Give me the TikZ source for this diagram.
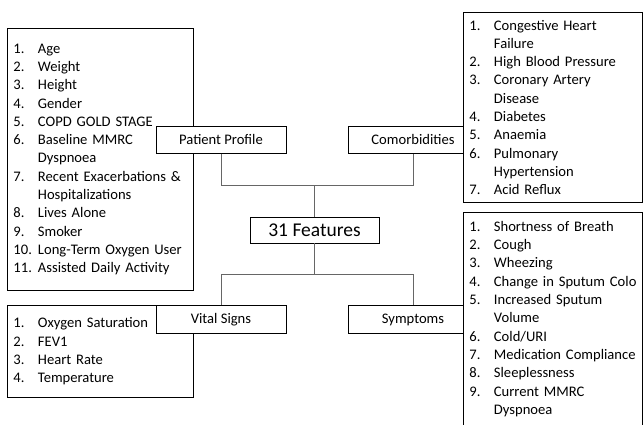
\documentclass[tikz,border=0pt]{standalone}
\usepackage{fontspec}
\setmainfont{Carlito}
\usepackage{xcolor,tikz}
\usetikzlibrary{positioning,calc}
\newcommand{\lstitem}[2]{\makebox[24.5pt][l]{#1}#2}
\newcommand{\lstcont}[1]{\hspace*{24.5pt}#1}
\tikzset{listbox/.style={draw=black,fill=white,line width=0.9pt,anchor=north west,align=left,inner xsep=6pt,inner ysep=0pt,font=\fontsize{14.6}{18.3}\selectfont},catbox/.style={draw=black,fill=white,line width=0.9pt,minimum width=130pt,minimum height=27pt,inner sep=0pt,font=\fontsize{14.6}{18}\selectfont},featbox/.style={catbox,minimum width=129pt,minimum height=26pt,font=\fontsize{19.5}{22}\selectfont},conn/.style={draw=black!60,line width=0.9pt}}

\begin{document}
\begin{tikzpicture}[x=1pt,y=1pt]
\useasboundingbox (0,0) rectangle (643,424);
\begin{scope}
\clip (0,0) rectangle (643,424);
% left lists sit under their labels
\node[listbox,text width=174pt,minimum height=262pt] (plist) at (7,396) {\lstitem{1.}{Age}\\\lstitem{2.}{Weight}\\\lstitem{3.}{Height}\\\lstitem{4.}{Gender}\\\lstitem{5.}{COPD GOLD STAGE}\\\lstitem{6.}{Baseline MMRC}\\\lstcont{Dyspnoea}\\\lstitem{7.}{Recent Exacerbations \&}\\\lstcont{Hospitalizations}\\\lstitem{8.}{Lives Alone}\\\lstitem{9.}{Smoker}\\\lstitem{10.}{Long-Term Oxygen User}\\\lstitem{11.}{Assisted Daily Activity}};
\node[listbox,text width=174pt,minimum height=92pt] (vlist) at (7,119) {\lstitem{1.}{Oxygen Saturation}\\\lstitem{2.}{FEV1}\\\lstitem{3.}{Heart Rate}\\\lstitem{4.}{Temperature}};
\node[featbox] (feat) at (314.5,194) {31 Features};
\node[catbox,above=63pt of feat,xshift=-93.5pt] (profile) {Patient Profile};
\node[catbox,above=63pt of feat,xshift=98.5pt] (comorb) {Comorbidities};
\node[catbox,below=62pt of feat,xshift=-93.5pt,minimum height=28pt] (vital) {Vital Signs};
\node[catbox,below=62pt of feat,xshift=98.5pt,minimum height=28pt] (sympt) {Symptoms};
% right lists sit over their labels
\node[listbox,text width=167pt,minimum height=190pt] (clist) at (463,412) {\lstitem{1.}{Congestive Heart}\\\lstcont{Failure}\\\lstitem{2.}{High Blood Pressure}\\\lstitem{3.}{Coronary Artery}\\\lstcont{Disease}\\\lstitem{4.}{Diabetes}\\\lstitem{5.}{Anaemia}\\\lstitem{6.}{Pulmonary}\\\lstcont{Hypertension}\\\lstitem{7.}{Acid Reflux}};
\node[listbox,text width=167pt,minimum height=213pt] (slist) at (463,212) {\lstitem{1.}{Shortness of Breath}\\\lstitem{2.}{Cough}\\\lstitem{3.}{Wheezing}\\\lstitem{4.}{\rlap{Change in Sputum Colo}}\\\lstitem{5.}{Increased Sputum}\\\lstcont{Volume}\\\lstitem{6.}{Cold/URI}\\\lstitem{7.}{Medication Compliance}\\\lstitem{8.}{Sleeplessness}\\\lstitem{9.}{Current MMRC}\\\lstcont{Dyspnoea}};
\end{scope}
\coordinate (tbus) at ($(feat.north)+(0,31)$);
\coordinate (bbus) at ($(feat.south)+(0,-31)$);
\draw[conn] (profile.south) |- (tbus) -| (comorb.south);
\draw[conn] (feat.north) -- (tbus);
\draw[conn] (vital.north) |- (bbus) -| (sympt.north);
\draw[conn] (feat.south) -- (bbus);
\end{tikzpicture}
\end{document}
